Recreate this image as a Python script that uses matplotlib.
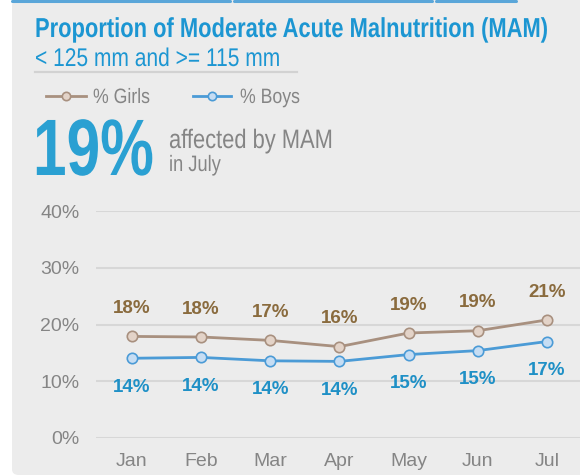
import matplotlib
matplotlib.use('Agg')
import matplotlib.pyplot as plt
from matplotlib.patches import FancyBboxPatch, PathPatch
from matplotlib.lines import Line2D
from matplotlib.textpath import TextPath
from matplotlib.font_manager import FontProperties
from matplotlib.transforms import Affine2D

#Data section ------------------------------
months = ['Jan', 'Feb', 'Mar', 'Apr', 'May', 'Jun', 'Jul']
girls = [17.9, 17.8, 17.2, 16.1, 18.5, 18.9, 20.8]
boys = [14.05, 14.2, 13.6, 13.5, 14.7, 15.4, 17.0]
girls_labels = ['18%', '18%', '17%', '16%', '19%', '19%', '21%']
boys_labels = ['14%', '14%', '14%', '14%', '15%', '15%', '17%']
yticks = [0, 10, 20, 30, 40]

#Fonts ------------------------------
plt.rcParams['font.family'] = ['Liberation Sans', 'DejaVu Sans']

blue = '#1c96d2'
gray_txt = '#858585'
girl_line = '#a8907f'
girl_face = '#e3d3c8'
girl_lab = '#8a6b3e'
boy_line = '#4b9bd6'
boy_face = '#c6ddf3'
boy_lab = '#1f90c6'

W, H = 580, 475
fig = plt.figure(figsize=(5.8, 4.75), dpi=100)
fig.patch.set_facecolor('white')

def fx(x):
    return x / W

def fy(y):
    return 1 - y / H

# condensed text drawn as a squeezed path (no narrow font installed)
def narrow_text(x, y, s, size, sx, color, weight='normal'):
    tp = TextPath((0, 0), s, size=size, prop=FontProperties(family='Liberation Sans', weight=weight))
    # squeeze horizontally, then move baseline to pixel spot (y down)
    tr = Affine2D().scale(sx, 1.0).translate(x, H - y)
    p = PathPatch(tr.transform_path(tp), facecolor=color, edgecolor='none', lw=0,
                  transform=Affine2D().scale(1.0 / W, 1.0 / H) + fig.transFigure, zorder=5)
    fig.add_artist(p)

# grey panel
panel = FancyBboxPatch((fx(12), 0.0), 1.0, 1.0, boxstyle='round,pad=0,rounding_size=0.012',
                       transform=fig.transFigure, facecolor='#ececec', edgecolor='none', zorder=-5)
fig.add_artist(panel)
# tab borders on top
for x0, x1 in [(12, 230), (234, 432), (436, 516)]:
    fig.add_artist(Line2D([fx(x0), fx(x1)], [fy(1.2), fy(1.2)], color='#5aa6d9', lw=2.2,
                          transform=fig.transFigure, solid_capstyle='round'))

# header texts
narrow_text(35, 37, 'Proportion of Moderate Acute Malnutrition (MAM)', 27.4, 0.80, blue, 'bold')
narrow_text(35, 66, '< 125 mm and >= 115 mm', 25.6, 0.82, blue)
fig.add_artist(Line2D([fx(35), fx(297)], [fy(72), fy(72)], color='#d2d2d2', lw=1.6,
                      transform=fig.transFigure))

# legend
fig.add_artist(Line2D([fx(46), fx(86)], [fy(96), fy(96)], color=girl_line, lw=2,
                      transform=fig.transFigure))
fig.add_artist(Line2D([fx(66)], [fy(96)], marker='o', ms=6, mfc=girl_face, mec=girl_line, mew=1.2,
                      transform=fig.transFigure))
narrow_text(93, 103, '% Girls', 20.8, 0.85, gray_txt)
fig.add_artist(Line2D([fx(193), fx(231)], [fy(96), fy(96)], color=boy_line, lw=2,
                      transform=fig.transFigure))
fig.add_artist(Line2D([fx(212)], [fy(96)], marker='o', ms=6, mfc=boy_face, mec=boy_line, mew=1.2,
                      transform=fig.transFigure))
narrow_text(240, 103, '% Boys', 20.8, 0.85, gray_txt)

# big number
narrow_text(33, 175, '19%', 80, 0.755, '#2aa0d2', 'bold')
narrow_text(169, 148, 'affected by MAM', 26.7, 0.82, gray_txt)
narrow_text(169, 171, 'in July', 22.3, 0.82, gray_txt)

# chart
ax = fig.add_axes([fx(96), fy(438), fx(484), 227 / H])
ax.set_facecolor('none')
x = list(range(len(months)))
ax.plot(x, girls, color=girl_line, lw=2, marker='o', ms=7.5, mfc=girl_face, mec=girl_line, mew=1.2,
        zorder=3, clip_on=False)
ax.plot(x, boys, color=boy_line, lw=2, marker='o', ms=7.5, mfc=boy_face, mec=boy_line, mew=1.2,
        zorder=3, clip_on=False)
for i in x:
    ax.annotate(girls_labels[i], (i, girls[i]), xytext=(0, 20), textcoords='offset points',
                ha='center', va='center', fontsize=13.5, fontweight='bold', color=girl_lab)
    ax.annotate(boys_labels[i], (i, boys[i]), xytext=(0, -21), textcoords='offset points',
                ha='center', va='center', fontsize=13.5, fontweight='bold', color=boy_lab)

ax.set_xlim(-0.52, 6.48)
ax.set_ylim(0, 40)
ax.set_yticks(yticks)
ax.set_yticklabels([str(t) + '%' for t in yticks])
ax.set_xticks(x)
ax.set_xticklabels(months)
ax.grid(axis='y', color='#d7d7d7', lw=1.5)
ax.set_axisbelow(True)
for s in ax.spines.values():
    s.set_visible(False)
ax.tick_params(length=0, labelsize=14, colors=gray_txt)
ax.tick_params(axis='y', pad=12)
ax.tick_params(axis='x', pad=11)

plt.savefig('out.png', dpi=100, facecolor=fig.get_facecolor())
